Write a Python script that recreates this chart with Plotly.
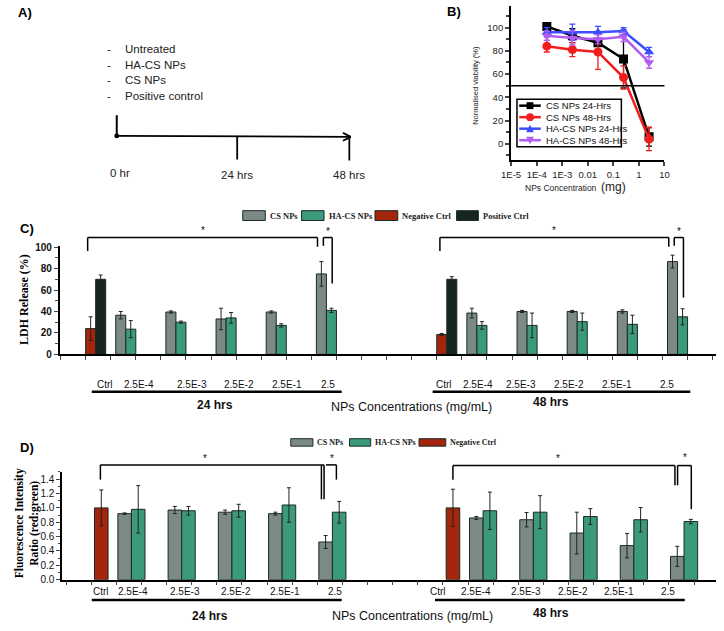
import plotly.graph_objects as go

W, H = 724, 631

# ---- B) viability ----
b_conc = [2.5e-4, 2.5e-3, 2.5e-2, 2.5e-1, 2.5]
b_cs_24 = [101, 93, 87, 73, 6]
b_cs_24_err = [3, 6, 3, 25, 8]
b_cs_48 = [84, 81, 79, 57, 4]
b_cs_48_err = [5, 6, 15, 10, 10]
b_ha_24 = [96, 96, 96, 97, 79]
b_ha_24_err = [4, 7, 5, 3, 4]
b_ha_48 = [93, 91, 90, 92, 70]
b_ha_48_err = [4, 6, 4, 4, 5]
b_names = ["CS NPs 24-Hrs", "CS NPs 48-Hrs", "HA-CS NPs 24-Hrs", "HA-CS NPs 48-Hrs"]
b_xticks = [1e-5, 1e-4, 1e-3, 1e-2, 1e-1, 1, 10]
b_xticktext = ["1E-5", "1E-4", "1E-3", "0.01", "0.1", "1", "10"]

# ---- C) LDH release ----
conc_labels = ["Ctrl", "2.5E-4", "2.5E-3", "2.5E-2", "2.5E-1", "2.5"]
ldh_neg = [24, 18.5]
ldh_neg_err = [11, 1]
ldh_pos = [70, 70]
ldh_pos_err = [4, 2.5]
ldh_cs_24 = [36.5, 39.5, 33, 39.5, 75]
ldh_cs_24_err = [3.5, 1, 10, 1, 11.5]
ldh_ha_24 = [23.5, 30, 34, 27, 41]
ldh_ha_24_err = [8, 1, 5, 1.5, 2]
ldh_cs_48 = [38.5, 40, 40, 40, 86.5]
ldh_cs_48_err = [4.5, 1, 1, 1.5, 6]
ldh_ha_48 = [27, 27, 30.5, 28, 35]
ldh_ha_48_err = [3.5, 11.5, 8, 8.5, 7.5]

# ---- D) fluorescence ratio ----
fl_neg = [1.0, 1.0]
fl_neg_err = [0.25, 0.26]
fl_cs_24 = [0.92, 0.97, 0.94, 0.92, 0.525]
fl_cs_24_err = [0.01, 0.05, 0.03, 0.02, 0.09]
fl_ha_24 = [0.98, 0.96, 0.96, 1.04, 0.94]
fl_ha_24_err = [0.33, 0.06, 0.09, 0.24, 0.15]
fl_cs_48 = [0.86, 0.835, 0.65, 0.475, 0.325]
fl_cs_48_err = [0.02, 0.1, 0.29, 0.17, 0.14]
fl_ha_48 = [0.96, 0.94, 0.88, 0.835, 0.81]
fl_ha_48_err = [0.26, 0.23, 0.11, 0.17, 0.03]

GRAY = "#7b8a87"
TEAL = "#3b9a7b"
RED = "#a3260c"
DARK = "#14261f"
EDGE = "#1b2a25"
SANS = "Liberation Sans"
SERIF = "Liberation Serif"


def px(x):
    return x / W


def py(y):
    return 1 - y / H


def seg(x0, y0, x1, y1, w=1.5, c="black"):
    return dict(type="line", xref="paper", yref="paper", x0=px(x0), y0=py(y0),
                x1=px(x1), y1=py(y1), line=dict(color=c, width=w))


def box(x0, y0, x1, y1, fill, w=1, c=EDGE):
    return dict(type="rect", xref="paper", yref="paper", x0=px(x0), y0=py(y0),
                x1=px(x1), y1=py(y1), fillcolor=fill, line=dict(color=c, width=w))


def txt(x, y, s, size=11, family=SANS, color="black", bold=False, xanchor="center", angle=0):
    return dict(x=px(x), y=py(y), xref="paper", yref="paper", text=s, showarrow=False,
                xanchor=xanchor, yanchor="middle", textangle=angle,
                font=dict(family=family, size=size, color=color, weight="bold" if bold else "normal"))


fig = go.Figure()

# ---- B traces ----
b_data = [(b_cs_24, b_cs_24_err, "#000000", "square"),
          (b_cs_48, b_cs_48_err, "#f21d1d", "circle"),
          (b_ha_24, b_ha_24_err, "#3d4dff", "triangle-up"),
          (b_ha_48, b_ha_48_err, "#b35cf2", "triangle-down")]
for name, (vals, err, col, sym) in zip(b_names, b_data):
    fig.add_trace(go.Scatter(
        x=b_conc, y=vals, name=name, mode="lines+markers",
        line=dict(color=col, width=2.5),
        marker=dict(symbol=sym, size=9, color=col),
        error_y=dict(type="data", array=err, color=col, thickness=1.3, width=3),
        xaxis="x", yaxis="y"))

# ---- C / D bar positions ----
groups = [0, 7]
x_conc = [g + p for g in groups for p in range(1, 6)]
x_ctrl = [g + 0.4 for g in groups]
wc = 0.2
wd = 0.27


def bars(x, y, err, col, off, w, xa, ya):
    return go.Bar(x=x, y=y, width=w, offset=off, marker=dict(color=col, line=dict(color=EDGE, width=1)),
                  error_y=dict(type="data", array=err, color="#222", thickness=1, width=2),
                  xaxis=xa, yaxis=ya)


fig.add_trace(bars(x_ctrl, ldh_neg, ldh_neg_err, RED, -wc, wc, "x2", "y2"))
fig.add_trace(bars(x_ctrl, ldh_pos, ldh_pos_err, DARK, 0, wc, "x2", "y2"))
fig.add_trace(bars(x_conc, ldh_cs_24 + ldh_cs_48, ldh_cs_24_err + ldh_cs_48_err, GRAY, -wc, wc, "x2", "y2"))
fig.add_trace(bars(x_conc, ldh_ha_24 + ldh_ha_48, ldh_ha_24_err + ldh_ha_48_err, TEAL, 0, wc, "x2", "y2"))

fig.add_trace(bars(x_ctrl, fl_neg, fl_neg_err, RED, -wd / 2, wd, "x3", "y3"))
fig.add_trace(bars(x_conc, fl_cs_24 + fl_cs_48, fl_cs_24_err + fl_cs_48_err, GRAY, -wd, wd, "x3", "y3"))
fig.add_trace(bars(x_conc, fl_ha_24 + fl_ha_48, fl_ha_24_err + fl_ha_48_err, TEAL, 0, wd, "x3", "y3"))

shapes = []
ann = []

# ---- A) timeline ----
ann.append(txt(6, 9, "A)", size=13, bold=True, xanchor="left"))
for i, s in enumerate(["Untreated", "HA-CS NPs", "CS NPs", "Positive control"]):
    yy = 46 + i * 15.8
    ann.append(txt(101, yy, "-", size=11.5, color="#222"))
    ann.append(txt(115, yy, s, size=11.5, color="#222", xanchor="left"))
shapes += [seg(109, 113, 109, 134, 2), seg(109, 134, 347, 135, 1.8),
           seg(340, 131, 348, 135, 1.8), seg(340, 139, 348, 135, 1.8),
           seg(232, 135, 232, 158, 1.8), seg(346.5, 135, 346.5, 159, 1.8),
           dict(type="circle", xref="paper", yref="paper", x0=px(106.5), x1=px(111.5),
                y0=py(131.5), y1=py(136.5), fillcolor="black", line=dict(width=0))]
ann += [txt(112, 172, "0 hr", size=11.5, color="#222"),
        txt(232, 174, "24 hrs", size=11.5, color="#222"),
        txt(346, 174, "48 hrs", size=11.5, color="#222")]

# ---- B) labels and legend ----
ann.append(txt(444, 8, "B)", size=13, bold=True, xanchor="left"))
ann.append(txt(476, 83, "Normalised viability (%)", size=7.5, color="#222", angle=-90))
ann.append(txt(577, 186, "NPs Concentration  <span style='font-size:12px'>(mg)</span>", size=8.5, color="#222"))
shapes.append(dict(type="line", xref="x domain", yref="y", x0=0, x1=1, y0=50, y1=50,
                   line=dict(color="black", width=1.5)))
shapes.append(dict(type="rect", xref="paper", yref="paper", x0=px(517.7), x1=px(624.3),
                   y0=py(96.7), y1=py(145), line=dict(color="black", width=1.5)))
for i, (name, (vals, err, col, sym)) in enumerate(zip(b_names, b_data)):
    yy = 103.3 + 11.7 * i
    shapes.append(seg(520, yy, 542, yy, 2.5, col))
    if sym == "square":
        shapes.append(box(527.5, yy - 3.5, 534.5, yy + 3.5, col, 0, col))
    elif sym == "circle":
        shapes.append(dict(type="circle", xref="paper", yref="paper", x0=px(527), x1=px(535),
                           y0=py(yy - 4), y1=py(yy + 4), fillcolor=col, line=dict(width=0)))
    else:
        d = -1 if sym == "triangle-up" else 1
        path = "M %f,%f L %f,%f L %f,%f Z" % (px(531), py(yy + 4 * d), px(527), py(yy - 3.5 * d),
                                              px(535), py(yy - 3.5 * d))
        shapes.append(dict(type="path", xref="paper", yref="paper", path=path,
                           fillcolor=col, line=dict(width=0)))
    ann.append(txt(545, yy, name, size=9.5, color="#111", xanchor="left"))

# ---- C) labels, legend, brackets ----
ann.append(txt(8, 228, "C)", size=13, bold=True, xanchor="left"))
ann.append(txt(15, 300, "LDH Release (%)", size=12, family=SERIF, bold=True, angle=-90))
leg_c = [(237.7, 260.7, GRAY, "CS NPs"), (297.7, 320.7, TEAL, "HA-CS NPs"),
         (372.7, 396, RED, "Negative Ctrl"), (456, 478.3, DARK, "Positive Ctrl")]
for x0, x1, col, lab in leg_c:
    shapes.append(box(x0, 210, x1, 220, col))
    ann.append(txt(x1 + 2.5, 215, lab, size=8.5, family=SERIF, bold=True, xanchor="left", color="#222"))

for xl, xr, xs, xsr, ys, yr in [(79.3, 314, 320, 329, 246.7, 284), (439, 672.7, 678.3, 687.7, 246.7, 298.3)]:
    shapes += [seg(xl, 251, xl, 237.3), seg(xl, 237.3, xr, 237.3), seg(xr, 237.3, xr, ys),
               seg(xs, 245.7, xs, 237.3), seg(xs, 237.3, xsr, 237.3), seg(xsr, 237.3, xsr, yr)]
    ann.append(txt((xl + xr) / 2, 230, "*", size=10, color="#111"))
    ann.append(txt((xs + xsr) / 2, 231, "*", size=10, color="#111"))

c_lab_x = [[97, 132, 185.6, 234, 283, 325], [443, 478, 522, 571, 620, 670.5]]
for xs in c_lab_x:
    for x, lab in zip(xs, conc_labels):
        ann.append(txt(x, 386.7, lab, size=10, color="#111"))
shapes += [seg(83.5, 394, 338.7, 394, 2.5), seg(431.6, 394, 694.7, 394, 2.5)]
ann += [txt(209, 407, "24 hrs", size=12, bold=True, color="#111"),
        txt(410, 409, "NPs Concentrations (mg/mL)", size=12.5, color="#111"),
        txt(552, 404.5, "48 hrs", size=12, bold=True, color="#111")]

# ---- D) labels, legend, brackets ----
ann.append(txt(8, 451, "D)", size=13, bold=True, xanchor="left"))
ann.append(txt(17, 528, "Fluorescence Intensity<br>Ratio (red:green)", size=11.5, family=SERIF,
               bold=True, angle=-90))
leg_d = [(286.7, 309.3, GRAY, "CS NPs"), (346.7, 368.3, TEAL, "HA-CS NPs"),
         (417.7, 445, RED, "Negative Ctrl")]
for x0, x1, col, lab in leg_d:
    shapes.append(box(x0, 441.7, x1, 449.3, col))
    ann.append(txt(x1 + 2.5, 445.5, lab, size=8, family=SERIF, bold=True, xanchor="left", color="#222"))

shapes += [seg(92.3, 483.3, 92.3, 468.3), seg(92.3, 468.3, 320.7, 468.3), seg(320.7, 468.3, 320.7, 503.3),
           seg(318, 503.3, 318, 469), seg(322.7, 468.3, 333.3, 468.3), seg(333.3, 468.3, 333.3, 483.3)]
shapes += [seg(452.3, 483.3, 452.3, 469), seg(452.3, 469, 679, 469), seg(679, 469, 679, 489),
           seg(681.7, 489, 681.7, 469), seg(681.7, 469, 695.7, 469), seg(695.7, 469, 695.7, 513.3)]
ann += [txt(199.3, 462, "*", size=10, color="#111"), txt(329, 462, "*", size=10, color="#111"),
        txt(559.3, 462, "*", size=10, color="#111"), txt(689.3, 460.5, "*", size=10, color="#111")]

d_lab_x = [[92.8, 126, 178.6, 230.6, 280.7, 331.8], [437, 475.6, 526.7, 575.4, 621.8, 672]]
for xs in d_lab_x:
    for x, lab in zip(xs, conc_labels):
        ann.append(txt(x, 596.7, lab, size=10, color="#111"))
shapes += [seg(83.5, 605.7, 338.7, 605.7, 2.5), seg(434, 605.7, 689, 605.7, 2.5)]
ann += [txt(204, 621.7, "24 hrs", size=12, bold=True, color="#111"),
        txt(411, 621.7, "NPs Concentrations (mg/mL)", size=12.5, color="#111"),
        txt(552, 618.3, "48 hrs", size=12, bold=True, color="#111")]

axis_common = dict(showline=True, linecolor="black", showgrid=False, zeroline=False)

fig.update_layout(
    width=W, height=H, margin=dict(l=0, r=0, t=0, b=0),
    paper_bgcolor="white", plot_bgcolor="white",
    showlegend=False, barmode="overlay", hovermode=False,
    shapes=shapes, annotations=ann,
    xaxis=dict(domain=[px(511.7), px(668.3)], type="log", range=[-5, 1], anchor="y",
               tickvals=b_xticks, ticktext=b_xticktext, ticks="outside", ticklen=4, tickwidth=1.5,
               linewidth=2, tickfont=dict(family=SANS, size=9.5, color="#222"), **axis_common),
    yaxis=dict(domain=[py(159), py(2)], range=[-14.4, 118.6], anchor="x",
               tickvals=[0, 20, 40, 60, 80, 100], ticks="outside", ticklen=4, tickwidth=1.5,
               minor=dict(dtick=10, tick0=0, ticks="outside", ticklen=3, tickwidth=1.5),
               linewidth=2, tickfont=dict(family=SANS, size=9.5, color="#222"), **axis_common),
    xaxis2=dict(domain=[px(50.7), px(721)], range=[-0.318, 12.768], anchor="y2",
                tickmode="linear", tick0=0.2, dtick=0.5, ticks="outside", ticklen=4,
                showticklabels=False, linewidth=1.5, **axis_common),
    yaxis2=dict(domain=[py(356), py(245.4)], range=[0, 101.5], anchor="x2",
                tickmode="linear", tick0=0, dtick=20, ticks="outside", ticklen=4,
                minor=dict(dtick=10, ticks="outside", ticklen=2.5),
                linewidth=1.5, tickfont=dict(family=SANS, size=10, color="#111", weight="bold"),
                **axis_common),
    xaxis3=dict(domain=[px(53.3), px(721)], range=[-0.378, 12.637], anchor="y3",
                tickmode="linear", tick0=0.2, dtick=0.5, ticks="outside", ticklen=4,
                showticklabels=False, linewidth=1.5, **axis_common),
    yaxis3=dict(domain=[py(585), py(475.5)], range=[0, 1.5], anchor="x3",
                tickmode="linear", tick0=0, dtick=0.2, tickformat=".1f", ticks="outside", ticklen=4,
                minor=dict(dtick=0.1, ticks="outside", ticklen=2.5),
                linewidth=1.5, tickfont=dict(family=SANS, size=10, color="#111"), **axis_common),
)

# the page body has a default 8px margin; drop it so the figure fills the window
fig.write_html("out.html", config={"displayModeBar": False},
               post_script="document.body.style.margin='0px';")
